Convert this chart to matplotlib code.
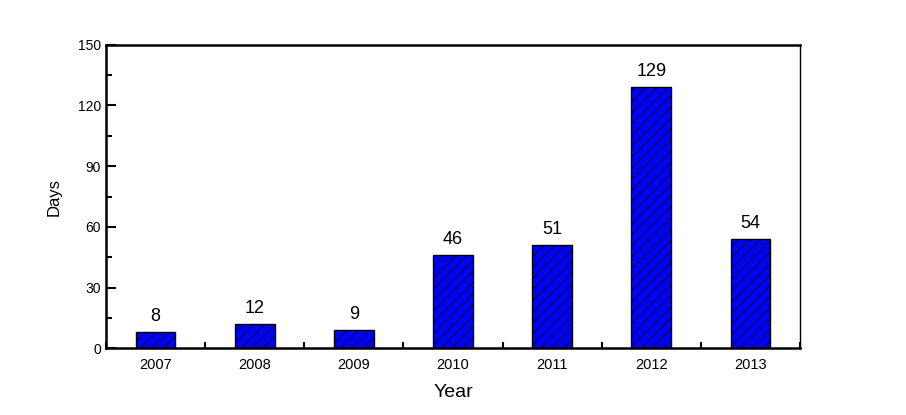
import matplotlib
matplotlib.use("Agg")
import matplotlib.pyplot as plt
from matplotlib.ticker import MultipleLocator, FixedLocator

plt.rcParams['font.family'] = ['Liberation Sans', 'DejaVu Sans']
plt.rcParams['hatch.linewidth'] = 0.6

years = ['2007', '2008', '2009', '2010', '2011', '2012', '2013']
days = [8, 12, 9, 46, 51, 129, 54]

fig = plt.figure(figsize=(9.06, 4.15), dpi=100)
ax = fig.add_axes([0.117, 0.161, 0.766, 0.731])

x = list(range(len(years)))
bars = ax.bar(x, days, width=0.4, color='#0000ff', edgecolor='black', linewidth=1.0, hatch='///', zorder=2)
for xi, v in zip(x, days):
    ax.text(xi, v + 3.5, str(v), ha='center', va='bottom', fontsize=13)

ax.set_xlim(-0.5, 6.5)
ax.set_ylim(0, 150)
ax.set_xticks(x)
ax.set_xticklabels(years, fontsize=10.5)
ax.xaxis.set_minor_locator(FixedLocator([i + 0.5 for i in range(-1, 7)]))
ax.yaxis.set_major_locator(MultipleLocator(30))
ax.yaxis.set_minor_locator(MultipleLocator(15))
ax.tick_params(axis='y', labelsize=10)
ax.tick_params(which='major', direction='in', length=7, width=1.5)
ax.tick_params(which='minor', direction='in', length=4, width=1.5)
ax.tick_params(axis='x', pad=7)
for s in ['left', 'bottom', 'top']:
    ax.spines[s].set_linewidth(1.8)
ax.spines['right'].set_linewidth(1.0)

ax.set_xlabel('Year', fontsize=14, labelpad=9)
ax.set_ylabel('Days', fontsize=12, labelpad=12)

fig.savefig('out.png', dpi=100)
